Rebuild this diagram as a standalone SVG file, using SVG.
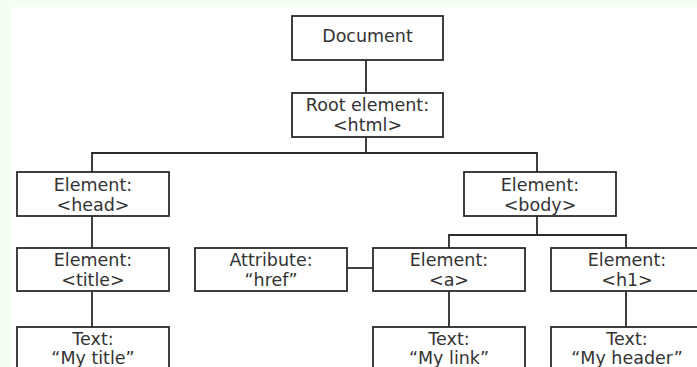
<svg xmlns="http://www.w3.org/2000/svg" width="697" height="367" viewBox="0 0 697 367">
<style>
.bg{fill:#f3fff3}
.node rect{fill:#ffffff;stroke:#2b2b2b;stroke-width:1.8}
.node text{font-family:"DejaVu Sans",Verdana,sans-serif;font-size:17.5px;fill:#333333;text-anchor:middle}
#connectors path{fill:none;stroke:#2b2b2b;stroke-width:1.8}
</style>
<rect class="bg" x="0" y="0" width="697" height="367"/>
<rect x="11" y="7" width="686" height="360" fill="#ffffff"/>
<g id="connectors">
<path d="M366,60 V93"/>
<path d="M366,137 V153"/>
<path d="M92,172 V153 H537 V172"/>
<path d="M92,216 V248"/>
<path d="M92,291 V327"/>
<path d="M347,268 H373"/>
<path d="M537,216 V235"/>
<path d="M449,248 V235 H626 V248"/>
<path d="M449,291 V327"/>
<path d="M626,291 V327"/>
</g>
<g id="document" class="node"><rect x="292" y="16" width="151" height="44"/><text x="367.5" y="42">Document</text></g>
<g id="root" class="node"><rect x="292" y="93" width="151" height="44"/><text x="367.5" y="111">Root element:</text><text x="367.5" y="131">&lt;html&gt;</text></g>
<g id="head" class="node"><rect x="17" y="172" width="152" height="44"/><text x="93" y="190.5">Element:</text><text x="93" y="210.5">&lt;head&gt;</text></g>
<g id="body" class="node"><rect x="464" y="172" width="152" height="44"/><text x="540" y="190.5">Element:</text><text x="540" y="210.5">&lt;body&gt;</text></g>
<g id="title" class="node"><rect x="17" y="248" width="152" height="43"/><text x="93" y="266">Element:</text><text x="93" y="286">&lt;title&gt;</text></g>
<g id="href" class="node"><rect x="195" y="248" width="152" height="43"/><text x="271" y="266">Attribute:</text><text x="271" y="286">“href”</text></g>
<g id="a" class="node"><rect x="373" y="248" width="152" height="43"/><text x="449" y="266">Element:</text><text x="449" y="286">&lt;a&gt;</text></g>
<g id="h1" class="node"><rect x="551" y="248" width="152" height="43"/><text x="627" y="266">Element:</text><text x="627" y="286">&lt;h1&gt;</text></g>
<g id="text-title" class="node"><rect x="17" y="327" width="152" height="50"/><text x="93" y="345">Text:</text><text x="93" y="364">“My title”</text></g>
<g id="text-link" class="node"><rect x="373" y="327" width="152" height="50"/><text x="449" y="345">Text:</text><text x="449" y="364">“My link”</text></g>
<g id="text-header" class="node"><rect x="551" y="327" width="152" height="50"/><text x="627" y="345">Text:</text><text x="627" y="364">“My header”</text></g>
</svg>
